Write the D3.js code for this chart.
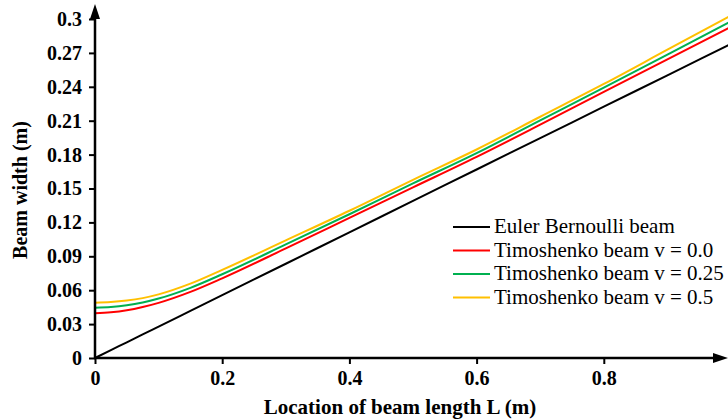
<!DOCTYPE html>
<html>
<head>
<meta charset="utf-8">
<script src="https://cdn.jsdelivr.net/npm/d3@7"></script>
<style>
  body { margin: 0; background: #fff; }
  svg { display: block; }
</style>
</head>
<body>
<svg id="chart"></svg>
<script>
const xs = [0, 0.025, 0.05, 0.075, 0.1, 0.15, 0.2, 0.3, 0.4, 0.5, 0.6, 0.7, 0.8, 0.9, 1.0]
const euler = [0, 0.007, 0.0139, 0.0209, 0.0278, 0.0417, 0.0556, 0.0834, 0.1112, 0.139, 0.1668, 0.1946, 0.2224, 0.2502, 0.278]
const timo00 = [0.0396, 0.0404, 0.0422, 0.0451, 0.0488, 0.0585, 0.0705, 0.097, 0.124, 0.151, 0.178, 0.2065, 0.2355, 0.2642, 0.293]
const timo025 = [0.0445, 0.0451, 0.0466, 0.0491, 0.0526, 0.0621, 0.0741, 0.1005, 0.1272, 0.1545, 0.1813, 0.2103, 0.2393, 0.2685, 0.298]
const timo05 = [0.049, 0.0495, 0.0508, 0.053, 0.0563, 0.0658, 0.078, 0.1041, 0.1303, 0.1577, 0.1845, 0.2135, 0.2425, 0.2728, 0.303]
const seriesNames = ['Euler Bernoulli beam', 'Timoshenko beam v = 0.0', 'Timoshenko beam v = 0.25', 'Timoshenko beam v = 0.5']
const xTicks = [0, 0.2, 0.4, 0.6, 0.8]
const yTicks = [0, 0.03, 0.06, 0.09, 0.12, 0.15, 0.18, 0.21, 0.24, 0.27, 0.3]

const width = 728
const height = 419
const margin = { top: 19, left: 95, right: -3, bottom: 61 }
const serif = "'Liberation Serif', 'Times New Roman', serif"

const svg = d3.select('#chart')
  .attr('width', width)
  .attr('height', height)

const x = d3.scaleLinear().domain([0, 1]).range([margin.left, width - margin.right])
const y = d3.scaleLinear().domain([0, 0.3]).range([height - margin.bottom, margin.top])

const colors = ['#000000', '#ff0000', '#00b050', '#ffc000']
const allSeries = [euler, timo00, timo025, timo05]

// curves
const line = d3.line()
  .x(d => x(d[0]))
  .y(d => y(d[1]))
  .curve(d3.curveMonotoneX)

svg.selectAll('.curve')
  .data(allSeries)
  .enter()
  .append('path')
  .attr('class', 'curve')
  .attr('d', vals => line(xs.map((v, i) => [v, vals[i]])))
  .attr('fill', 'none')
  .attr('stroke', (d, i) => colors[i])
  .attr('stroke-width', 2)

// axes
const yAxis = svg.append('g')
  .attr('transform', 'translate(' + x(0) + ',0)')
  .call(d3.axisLeft(y).tickValues(yTicks).tickSize(6).tickPadding(7)
    .tickFormat(d => d === 0 ? '0' : d3.format('.2~f')(d)))
  .attr('font-family', serif)
yAxis.select('.domain').remove()
yAxis.selectAll('.tick line').attr('stroke-width', 2)
yAxis.selectAll('.tick text')
  .attr('font-size', 20)
  .attr('font-weight', 'bold')
  .attr('fill', '#000')

const xAxis = svg.append('g')
  .attr('transform', 'translate(0,' + y(0) + ')')
  .call(d3.axisBottom(x).tickValues(xTicks).tickSize(6).tickPadding(7)
    .tickFormat(d => d === 0 ? '0' : d3.format('.1f')(d)))
  .attr('font-family', serif)
xAxis.select('.domain').remove()
xAxis.selectAll('.tick line').attr('stroke-width', 2)
xAxis.selectAll('.tick text')
  .attr('font-size', 20)
  .attr('font-weight', 'bold')
  .attr('fill', '#000')

// axis lines with arrow heads
svg.append('line')
  .attr('x1', x(0)).attr('x2', x(0))
  .attr('y1', y(0) + 1).attr('y2', 12)
  .attr('stroke', '#000').attr('stroke-width', 2.5)
svg.append('path')
  .attr('d', `M${x(0)},4 L${x(0) - 5},19 L${x(0) + 5},19 Z`)
  .attr('fill', '#000')

svg.append('line')
  .attr('x1', x(0) - 1).attr('x2', 718)
  .attr('y1', y(0)).attr('y2', y(0))
  .attr('stroke', '#000').attr('stroke-width', 2.5)
svg.append('path')
  .attr('d', `M728,${y(0)} L713,${y(0) - 5} L713,${y(0) + 5} Z`)
  .attr('fill', '#000')

// axis titles
svg.append('text')
  .text('Location of beam length L (m)')
  .attr('x', 400)
  .attr('y', 414)
  .attr('text-anchor', 'middle')
  .attr('font-family', serif)
  .attr('font-weight', 'bold')
  .attr('font-size', 21)

svg.append('text')
  .text('Beam width (m)')
  .attr('transform', 'translate(27,190) rotate(-90)')
  .attr('text-anchor', 'middle')
  .attr('font-family', serif)
  .attr('font-weight', 'bold')
  .attr('font-size', 20)

// legend
const legend = svg.append('g')
  .attr('transform', 'translate(453,227)')

const rows = legend.selectAll('.row')
  .data(seriesNames)
  .enter()
  .append('g')
  .attr('class', 'row')
  .attr('transform', (d, i) => 'translate(0,' + i * 23.5 + ')')

rows.append('line')
  .attr('x1', 0).attr('x2', 37)
  .attr('y1', 0).attr('y2', 0)
  .attr('stroke', (d, i) => colors[i])
  .attr('stroke-width', 2)

rows.append('text')
  .text(d => d)
  .attr('x', 41)
  .attr('y', 6)
  .attr('font-family', serif)
  .attr('font-size', 21)
  .attr('fill', '#000')
</script>
</body>
</html>
